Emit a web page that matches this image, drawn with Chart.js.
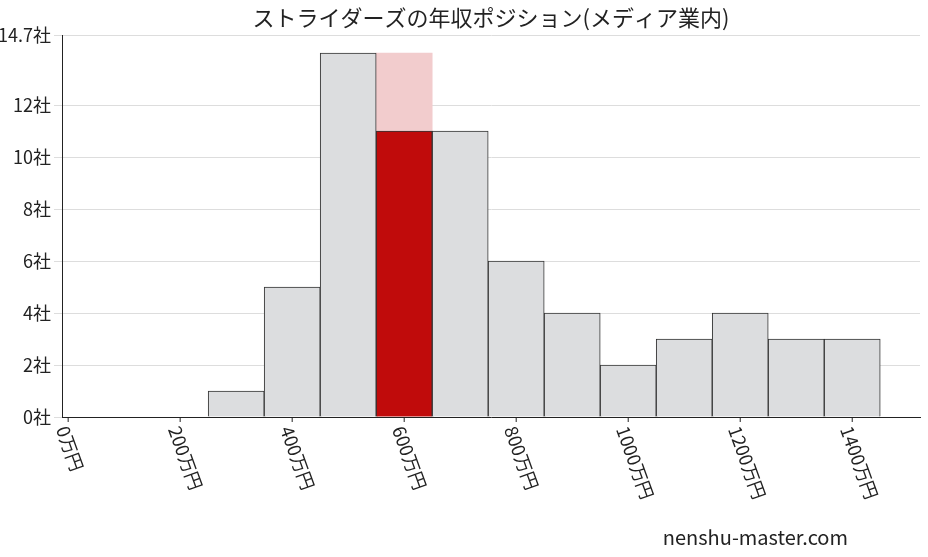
<!DOCTYPE html>
<html><head><meta charset="utf-8">
<script src="https://cdn.jsdelivr.net/npm/chart.js@4"></script>
<style>body{margin:0;background:#fff}#wrap{width:928px;height:557px}</style>
</head><body><div id="wrap"><canvas id="c"></canvas></div>
<script>
const binCenters = [300, 400, 500, 600, 700, 800, 900, 1000, 1100, 1200, 1300, 1400];
const counts = [1, 5, 14, 11, 11, 6, 4, 2, 3, 4, 3, 3];
const highlightBin = 600;
const highlightTop = 14;
const xTicks = [0, 200, 400, 600, 800, 1000, 1200, 1400];
const titleText = 'ストライダーズの年収ポジション(メディア業内)';
const FONT = '"Noto Sans CJK JP", "Noto Sans", sans-serif';

const grayData = binCenters.map((x, i) => ({x: x, y: x === highlightBin ? null : counts[i]}));
const redData = [{x: highlightBin, y: counts[binCenters.indexOf(highlightBin)]}];
const pinkData = [{x: highlightBin, y: highlightTop}];

const extras = {
    id: 'extras',
    afterDraw(chart) {
        const c = chart.ctx, xs = chart.scales.x, a = chart.chartArea;
        c.save();
        c.fillStyle = '#222';
        c.font = '22px ' + FONT;
        c.textAlign = 'center';
        c.textBaseline = 'middle';
        c.fillText(titleText, (a.left + a.right) / 2, 18);
        c.font = '18px ' + FONT;
        c.textAlign = 'left';
        c.strokeStyle = '#222';
        xTicks.forEach(v => {
            const px = xs.getPixelForValue(v);
            c.beginPath(); c.moveTo(px, a.bottom); c.lineTo(px, a.bottom + 5); c.stroke();
            c.save();
            c.translate(px - 6, a.bottom + 10);
            c.rotate(70 * Math.PI / 180);
            c.fillText(v + '万円', 0, 0);
            c.restore();
        });
        c.font = '20px ' + FONT;
        c.textAlign = 'right';
        c.fillText('nenshu-master.com', 848, 537);
        c.restore();
    }
};

new Chart(document.getElementById('c'), {
    type: 'bar',
    data: {
        datasets: [
            {data: redData, backgroundColor: '#c00b0b', borderColor: '#333', borderWidth: 1, grouped: false, order: 1},
            {data: grayData, backgroundColor: '#dcdddf', borderColor: '#333', borderWidth: 1, grouped: false, order: 2},
            {data: pinkData, backgroundColor: '#f2cccd', borderWidth: 0, grouped: false, order: 3}
        ]
    },
    options: {
        responsive: true, maintainAspectRatio: false, animation: false,
        layout: {padding: {top: 35, right: 8, left: 0, bottom: 0}},
        datasets: {bar: {barPercentage: 1, categoryPercentage: 1}},
        plugins: {legend: {display: false}, tooltip: {enabled: false}},
        scales: {
            x: {
                type: 'linear', min: -11, max: 1521, offset: false,
                ticks: {display: false},
                grid: {display: false},
                border: {color: '#222'},
                afterFit(s) { s.height = 140; }
            },
            y: {
                min: 0, max: 14.7,
                ticks: {stepSize: 2, color: '#222', font: {size: 18, family: FONT}, callback: v => v + '社'},
                grid: {color: '#dddddd'},
                border: {color: '#222'},
                afterFit(s) { s.width = 62; }
            }
        }
    },
    plugins: [extras]
});
</script></body></html>
